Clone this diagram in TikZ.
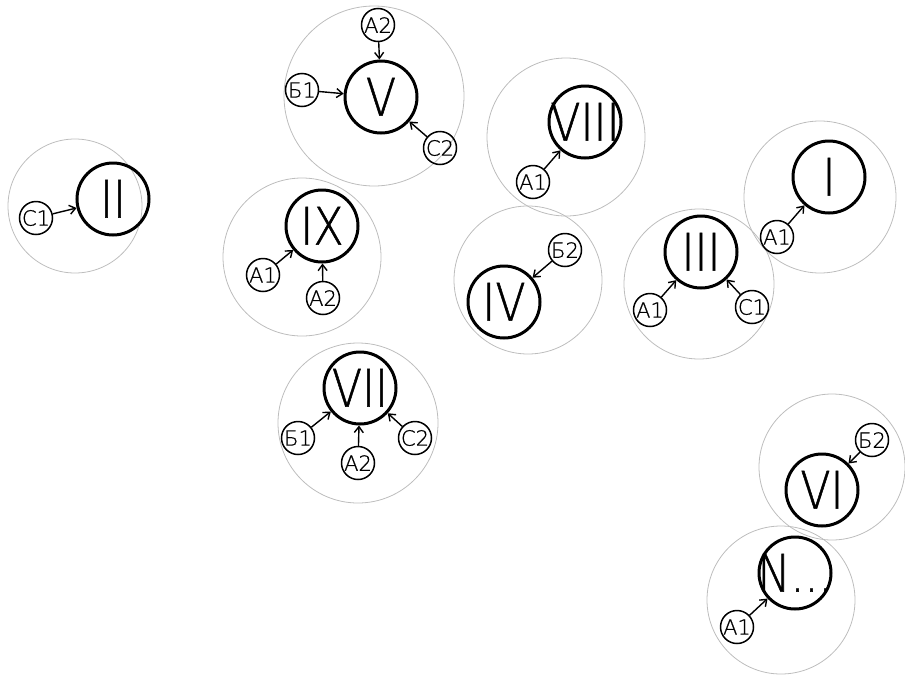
\documentclass[tikz,border=0pt]{standalone}
\usepackage{fontspec}
\newfontfamily\numfont[FakeStretch=0.85,FakeBold=1]{DejaVu Sans ExtraLight}
\newfontfamily\labfont[FakeBold=0.8]{DejaVu Sans ExtraLight}
\usetikzlibrary{arrows.meta}
\definecolor{Ring}{HTML}{BDBDBD}
\tikzset{
  grp/.style={circle,draw=Ring,line width=0.8pt,inner sep=0pt},
  num/.style={circle,draw=black,line width=3pt,minimum size=72pt,inner sep=0pt,font=\numfont\fontsize{52}{52}\selectfont},
  src/.style={circle,draw=black,line width=1.5pt,minimum size=33pt,inner sep=0pt,font=\labfont\fontsize{21}{21}\selectfont},
  feed/.style={-{Straight Barb[length=6pt,width=9pt]},line width=1.4pt},
}
\newcommand{\Grp}[4]{%
  \node[grp,minimum size=#4pt] (#1) at (#2,#3) {};%
}
\newcommand{\Num}[4]{%
  \node[num] (#1) at (#2,#3) {\makebox[0pt]{\raisebox{-0.36em}[0pt][0pt]{#4}}};%
}

\begin{document}
\begin{tikzpicture}[x=1pt,y=-1pt]
\useasboundingbox (0,0) rectangle (905,675);
\Grp{gII}{75}{206}{134}
\Grp{gV}{374}{96}{180}
\Grp{gVIII}{566}{137}{158}
\Grp{gIX}{302}{257}{158}
\Grp{gIV}{528}{280}{148}
\Grp{gIII}{699}{284}{150}
\Grp{gI}{820}{197}{152}
\Grp{gVII}{358}{423}{160}
\Grp{gVI}{832}{467}{146}
\Grp{gN}{781}{600}{148}
\Num{II}{113}{199}{II}
\Num{V}{381}{97}{V}
\Num{VIII}{585}{122}{VIII}
\Num{IX}{322}{226}{IX}
\Num{IV}{504}{302}{IV}
\Num{III}{701}{252}{III}
\Num{I}{829}{177}{I}
\Num{VII}{360}{388}{VII}
\Num{VI}{822}{490}{VI}
\Num{N}{795}{573}{N...}
\node[src] (iic1) at (36,218) {С1};
\node[src] (va2) at (378,25) {А2};
\node[src] (vb1) at (302,90) {Б1};
\node[src] (vc2) at (440,148) {С2};
\node[src] (viiia1) at (533,182) {А1};
\node[src] (ixa1) at (263,275) {А1};
\node[src] (ixa2) at (323,298) {А2};
\node[src] (ivb2) at (565,250) {Б2};
\node[src] (iiia1) at (650,310) {А1};
\node[src] (iiic1) at (752,307) {С1};
\node[src] (ia1) at (777,237) {А1};
\node[src] (viib1) at (298,438) {Б1};
\node[src] (viia2) at (358,463) {А2};
\node[src] (viic2) at (415,438) {С2};
\node[src] (vib2) at (872,440) {Б2};
\node[src] (na1) at (737,627) {А1};
\foreach \s/\t in {iic1/II,va2/V,vb1/V,vc2/V,viiia1/VIII,ixa1/IX,ixa2/IX,ivb2/IV,
  iiia1/III,iiic1/III,ia1/I,viib1/VII,viia2/VII,viic2/VII,vib2/VI,na1/N}
  \draw[feed] (\s) -- (\t);
\end{tikzpicture}
\end{document}
